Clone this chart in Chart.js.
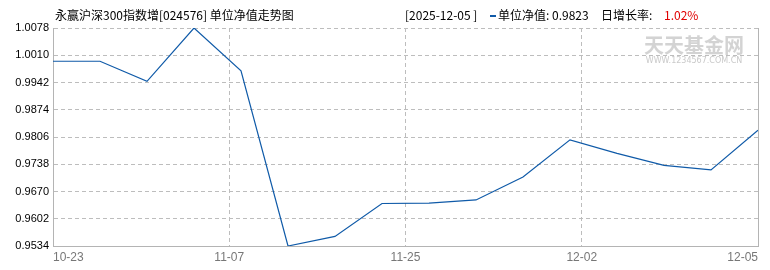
<!DOCTYPE html>
<html>
<head>
<meta charset="utf-8">
<script src="https://cdn.jsdelivr.net/npm/chart.js@4"></script>
<style>
html,body{margin:0;padding:0;background:#fff;}
#wrap{width:770px;height:270px;position:relative;}
</style>
</head>
<body>
<div id="wrap"><canvas id="c" width="770" height="270"></canvas></div>
<script>
const fundTitle = "永赢沪深300指数增[024576] 单位净值走势图";
const year = "2025";
const dates = ["10-23","10-24","10-31","11-06","11-07","11-14","11-20","11-21","11-25","11-27","11-28","12-01","12-02","12-03","12-04","12-05"];
const navValues = [0.9995,0.9995,0.9945,1.0078,0.9971,0.9534,0.9558,0.9640,0.9641,0.9649,0.9706,0.9799,0.9765,0.9735,0.9724,0.9823];
const xTickLabels = ["10-23","11-07","11-25","12-02","12-05"];
const yTickCount = 9;

const n = navValues.length;
const yMin = Math.min(...navValues), yMax = Math.max(...navValues);
const yStep = (yMax - yMin) / (yTickCount - 1);
const xTickPos = xTickLabels.map((_, i) => i * (n - 1) / (xTickLabels.length - 1));
const lastVal = navValues[n - 1], prevVal = navValues[n - 2];
const growth = ((lastVal / prevVal - 1) * 100).toFixed(2) + "%";

const FONT = "'Liberation Sans', Arial, 'Noto Sans CJK SC', sans-serif";
const CJK = "'Noto Sans CJK SC', 'Liberation Sans', sans-serif";

const header = {
  id: 'header',
  afterDraw(chart) {
    const ctx = chart.ctx;
    const a = chart.chartArea;
    ctx.save();
    ctx.setLineDash([]);
    ctx.strokeStyle = '#b4b4b4';
    ctx.lineWidth = 1;
    ctx.beginPath();
    ctx.moveTo(Math.round(a.right) + 0.5, a.top);
    ctx.lineTo(Math.round(a.right) + 0.5, a.bottom);
    ctx.stroke();
    ctx.textBaseline = 'alphabetic';
    ctx.textAlign = 'left';
    ctx.fillStyle = '#000';
    ctx.font = "12px " + CJK;
    ctx.fillText(fundTitle, 55, 20);
    ctx.fillText("[" + year + "-" + dates[n - 1] + " ]", 405, 20);
    ctx.fillStyle = '#0f5aa8';
    ctx.fillRect(490, 15, 6, 2);
    ctx.fillStyle = '#000';
    ctx.fillText("单位净值: " + lastVal.toFixed(4), 498, 20);
    ctx.fillText("日增长率:", 601, 20);
    ctx.fillStyle = '#e00000';
    ctx.fillText(growth, 664, 20);
    ctx.fillStyle = 'rgba(200,200,200,0.8)';
    ctx.font = "bold 20px " + CJK;
    ctx.textAlign = 'center';
    ctx.fillText("天天基金网", 694, 53);
    ctx.font = "8px 'DejaVu Sans', sans-serif";
    ctx.fillStyle = 'rgba(195,195,195,0.9)';
    ctx.fillText("WWW.1234567.COM.CN", 694, 63);
    ctx.restore();
  }
};

new Chart(document.getElementById('c'), {
  type: 'line',
  data: {
    datasets: [{
      data: navValues.map((v, i) => ({x: i, y: v})),
      borderColor: '#0f5aa8',
      borderWidth: 1.2,
      pointRadius: 0,
      tension: 0,
      fill: false
    }]
  },
  options: {
    responsive: false,
    animation: false,
    events: [],
    layout: {padding: {top: 28, right: 12, left: 0, bottom: 0}},
    plugins: {legend: {display: false}, tooltip: {enabled: false}, title: {display: false}},
    scales: {
      x: {
        type: 'linear',
        min: 0,
        max: n - 1,
        afterBuildTicks(axis) { axis.ticks = xTickPos.map(v => ({value: v})); },
        afterFit(axis) { axis.height = 24; },
        ticks: {
          autoSkip: false,
          maxRotation: 0,
          align: 'inner',
          padding: 4,
          color: '#777',
          font: {family: FONT, size: 12},
          callback(v) { const k = xTickPos.findIndex(p => Math.abs(p - v) < 1e-6); return k >= 0 ? xTickLabels[k] : ''; }
        },
        grid: {color: '#bdbdbd', drawTicks: false},
        border: {display: true, color: '#b4b4b4', width: 1, dash: [4, 3]}
      },
      y: {
        type: 'linear',
        min: yMin,
        max: yMax,
        afterBuildTicks(axis) {
          const t = [];
          for (let i = 0; i < yTickCount; i++) t.push({value: yMin + i * yStep});
          axis.ticks = t;
        },
        afterFit(axis) { axis.width = 53; },
        ticks: {
          padding: 4,
          color: '#000',
          font: {family: FONT, size: 11},
          callback(v) { return Number(v).toFixed(4); }
        },
        grid: {color: '#bdbdbd', drawTicks: false},
        border: {display: true, color: '#b4b4b4', width: 1, dash: [4, 3]}
      }
    }
  },
  plugins: [header]
});
</script>
</body>
</html>
